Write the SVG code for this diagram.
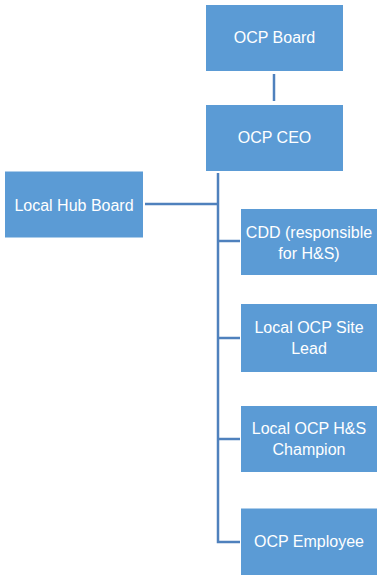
<svg xmlns="http://www.w3.org/2000/svg" width="377" height="575" viewBox="0 0 377 575">
<style>
.box{fill:#5B9BD5;stroke:#FFFFFF;stroke-width:1}
.t{font-family:"Liberation Sans",Arial,sans-serif;font-size:16px;fill:#FFFFFF;text-anchor:middle}
.c{fill:none;stroke:#4F81BD;stroke-width:2.5}
</style>
<rect width="377" height="575" fill="#FFFFFF"/>
<g id="connectors">
<line class="c" x1="274" y1="74" x2="274" y2="101"/>
<polyline class="c" points="218,173 218,542 240,542"/>
<line class="c" x1="145" y1="204" x2="218" y2="204"/>
<line class="c" x1="218" y1="241" x2="240" y2="241"/>
<line class="c" x1="218" y1="338" x2="240" y2="338"/>
<line class="c" x1="218" y1="439" x2="240" y2="439"/>
</g>
<g id="ocp-board"><rect class="box" x="205.5" y="4.5" width="138" height="67"/><text class="t" x="274.5" y="43">OCP Board</text></g>
<g id="ocp-ceo"><rect class="box" x="205.5" y="104.5" width="138" height="67"/><text class="t" x="274.5" y="143">OCP CEO</text></g>
<g id="local-hub-board"><rect class="box" x="4.5" y="171" width="139" height="67"/><text class="t" x="74" y="211">Local Hub Board</text></g>
<g id="cdd"><rect class="box" x="240.5" y="208.5" width="138" height="67"/><text class="t" x="309" y="238">CDD (responsible</text><text class="t" x="309" y="259">for H&amp;S)</text></g>
<g id="site-lead"><rect class="box" x="240.5" y="303.5" width="138" height="69"/><text class="t" x="309" y="333">Local OCP Site</text><text class="t" x="309" y="354">Lead</text></g>
<g id="hs-champion"><rect class="box" x="240.5" y="405.5" width="138" height="67"/><text class="t" x="309" y="434">Local OCP H&amp;S</text><text class="t" x="309" y="455">Champion</text></g>
<g id="employee"><rect class="box" x="240.5" y="508" width="138" height="68"/><text class="t" x="309" y="547">OCP Employee</text></g>
</svg>
